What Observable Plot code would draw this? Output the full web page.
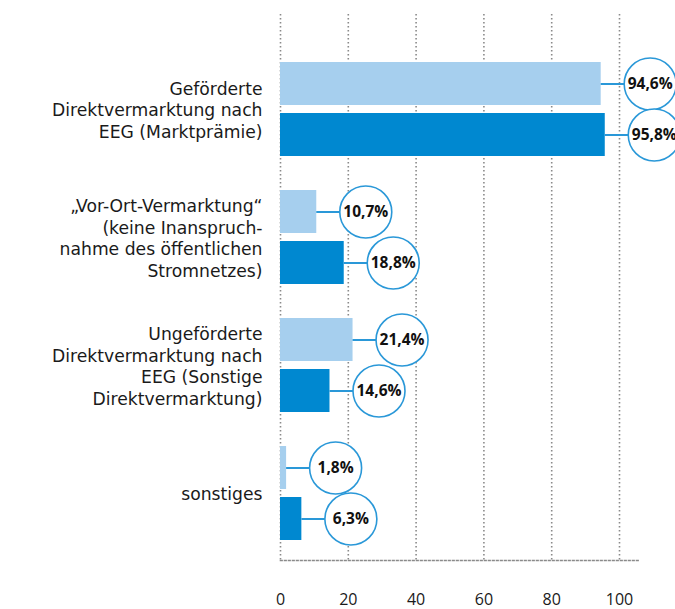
<!DOCTYPE html>
<html>
<head>
<meta charset="utf-8">
<script src="https://cdn.jsdelivr.net/npm/d3@7"></script>
<script src="https://cdn.jsdelivr.net/npm/@observablehq/plot@0.6"></script>
<style>
  html, body { margin: 0; padding: 0; background: #fff; }
  #chart { width: 675px; height: 609px; overflow: hidden; }
</style>
</head>
<body>
<div id="chart"></div>
<script>
const groups = [
  "Geförderte\nDirektvermarktung nach\nEEG (Marktprämie)",
  "„Vor-Ort-Vermarktung“\n(keine Inanspruch-\nnahme des öffentlichen\nStromnetzes)",
  "Ungeförderte\nDirektvermarktung nach\nEEG (Sonstige\nDirektvermarktung)",
  "sonstiges"
];
const seriesLight = [94.6, 10.7, 21.4, 1.8];
const seriesDark = [95.8, 18.8, 14.6, 6.3];
const xTicks = [0, 20, 40, 60, 80, 100];

const W = 675, H = 609;
const marginLeft = 280, marginRight = 56, marginTop = 14, marginBottom = 49;
const pxPerUnit = (W - marginLeft - marginRight) / 100;
const circleOffsetPx = 49;

const light = groups.map((g, i) => ({group: g, value: seriesLight[i]}));
const dark = groups.map((g, i) => ({group: g, value: seriesDark[i]}));
const fmt = v => v.toFixed(1).replace(".", ",") + "%";

const cLight = "#a6cfee";
const cDark = "#0088d0";
const cLine = "#2a98d8";
const half = 25.5;

function labelMarks(data, dy) {
  return [
    Plot.ruleY(data, {y: "group", x1: "value", x2: d => d.value + circleOffsetPx / pxPerUnit, dy, stroke: cLine, strokeWidth: 2}),
    Plot.dot(data, {y: "group", x: "value", dx: circleOffsetPx, dy, r: 26, fill: "white", stroke: cLine, strokeWidth: 1.6}),
    Plot.text(data, {y: "group", x: "value", dx: circleOffsetPx, dy, text: d => fmt(d.value), fontWeight: "bold", fontSize: 15.5, fill: "#111"})
  ];
}

const chart = Plot.plot({
  width: W,
  height: H,
  marginLeft, marginRight, marginTop, marginBottom,
  style: {fontFamily: "'Open Sans', sans-serif", color: "#1a1a1a", background: "white"},
  x: {domain: [0, 100], ticks: xTicks},
  y: {domain: groups, paddingInner: 0.2694, paddingOuter: 0.2565, align: 0.697},
  marks: [
    Plot.gridX(xTicks, {stroke: "#8a8a8a", strokeOpacity: 1, strokeWidth: 1.6, strokeDasharray: "1.6,2.4"}),
    Plot.frame({anchor: "bottom", stroke: "#8a8a8a", strokeWidth: 1.6, strokeDasharray: "1.6,2.4", insetRight: -21}),
    Plot.barX(light, {y: "group", x: "value", fill: cLight, insetBottom: 51, insetTop: 0}),
    Plot.barX(dark, {y: "group", x: "value", fill: cDark, insetTop: 51, insetBottom: 0}),
    ...labelMarks(light, -half),
    ...labelMarks(dark, half),
    Plot.axisX({ticks: xTicks, tickSize: 0, tickPadding: 33, fontSize: 16, label: null}),
    Plot.axisY({tickSize: 0, tickPadding: 18, fontSize: 17.2, fontFamily: "'DejaVu Sans', sans-serif", lineHeight: 1.26, label: null})
  ]
});
document.getElementById("chart").appendChild(chart);
</script>
</body>
</html>
